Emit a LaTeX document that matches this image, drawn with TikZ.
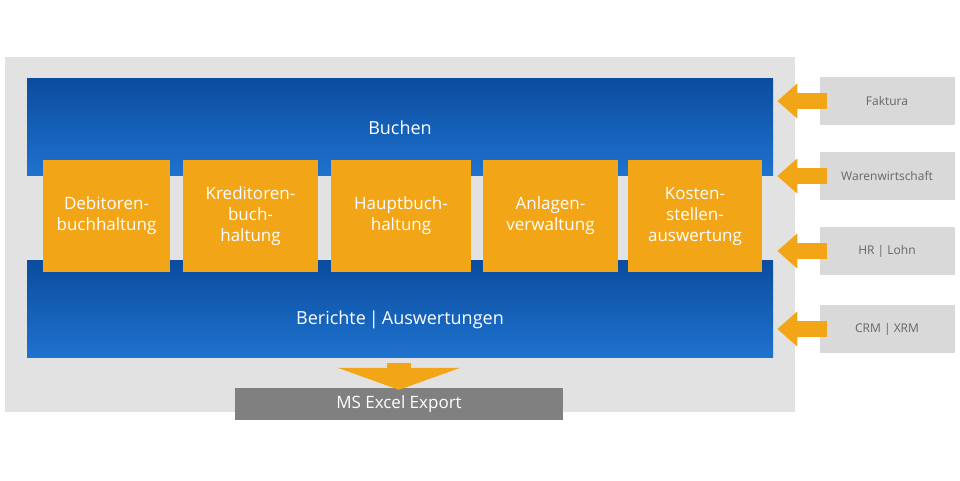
\documentclass[tikz,border=0pt]{standalone}
\usepackage{fontspec}
\setmainfont{Open Sans}
\usetikzlibrary{arrows.meta, positioning}
\definecolor{bgray}{HTML}{E2E2E2}
\definecolor{sgray}{HTML}{D9D9D9}
\definecolor{orng}{HTML}{F2A516}
\definecolor{bluetop}{HTML}{0B4C9E}
\definecolor{bluebot}{HTML}{1E72CF}

\begin{document}
\begin{tikzpicture}[x=1pt, y=-1pt,
  band/.style={rectangle, minimum width=746pt, minimum height=97pt, top color=bluetop, bottom color=bluebot, text=white, font=\fontsize{18}{20}\selectfont},
  modul/.style={rectangle, minimum height=112pt, fill=orng, align=center, text=white, font=\fontsize{17}{21}\selectfont, inner sep=2pt},
  quelle/.style={rectangle, minimum width=135pt, minimum height=48pt, fill=sgray, text=black!60, font=\fontsize{12}{14}\selectfont},
  fatarrow/.style={draw=orng, line width=16pt, -{Triangle[length=20pt, width=34pt]}}]

  \useasboundingbox (0,0) rectangle (960,480);
  \fill[bgray] (5,57) rectangle (795,412);

  % Nodes
  \node (buchen) [band, anchor=north west] at (27,78) {};
  \node at (400,128) [text=white, font=\fontsize{18}{20}\selectfont] {Buchen};
  \node (berichte) [band, anchor=north west] at (27,260) {};
  \node at (400,320) [text=white, font=\fontsize{18}{20}\selectfont] {Berichte\,|\,Auswertungen};

  \node (debitoren) [modul, minimum width=127pt] at (106.5,216) {Debitoren-\\buchhaltung};
  \node (kreditoren) [modul, minimum width=135pt] at (250.5,216) {Kreditoren-\\buch-\\haltung};
  \node (hauptbuch) [modul, minimum width=140pt] at (401,216) {Hauptbuch-\\haltung};
  \node (anlagen) [modul, minimum width=135pt] at (550.5,216) {Anlagen-\\verwaltung};
  \node (kosten) [modul, minimum width=134pt] at (695,216) {Kosten-\\stellen-\\auswertung};

  \node (faktura) [quelle] at (887,101) {Faktura};
  \node (waren) [quelle] at (887,176) {Warenwirtschaft};
  \node (hr) [quelle] at (887,251) {HR | Lohn};
  \node (crm) [quelle] at (887,329) {CRM | XRM};

  \node (excel) [rectangle, minimum width=328pt, minimum height=32pt, fill=black!50, text=white, font=\fontsize{17}{19}\selectfont] at (399,404) {MS Excel Export};

  % Arrows
  \foreach \q in {faktura, waren, hr, crm}
    \draw [fatarrow] ([xshift=8pt]\q.west) -- ++(-50,0);
  \draw [draw=orng, line width=24pt, -{Triangle[length=22pt, width=122pt]}] ([yshift=-6pt]berichte.south -| excel.north) -- ([yshift=-2pt]excel.north);

\end{tikzpicture}
\end{document}
